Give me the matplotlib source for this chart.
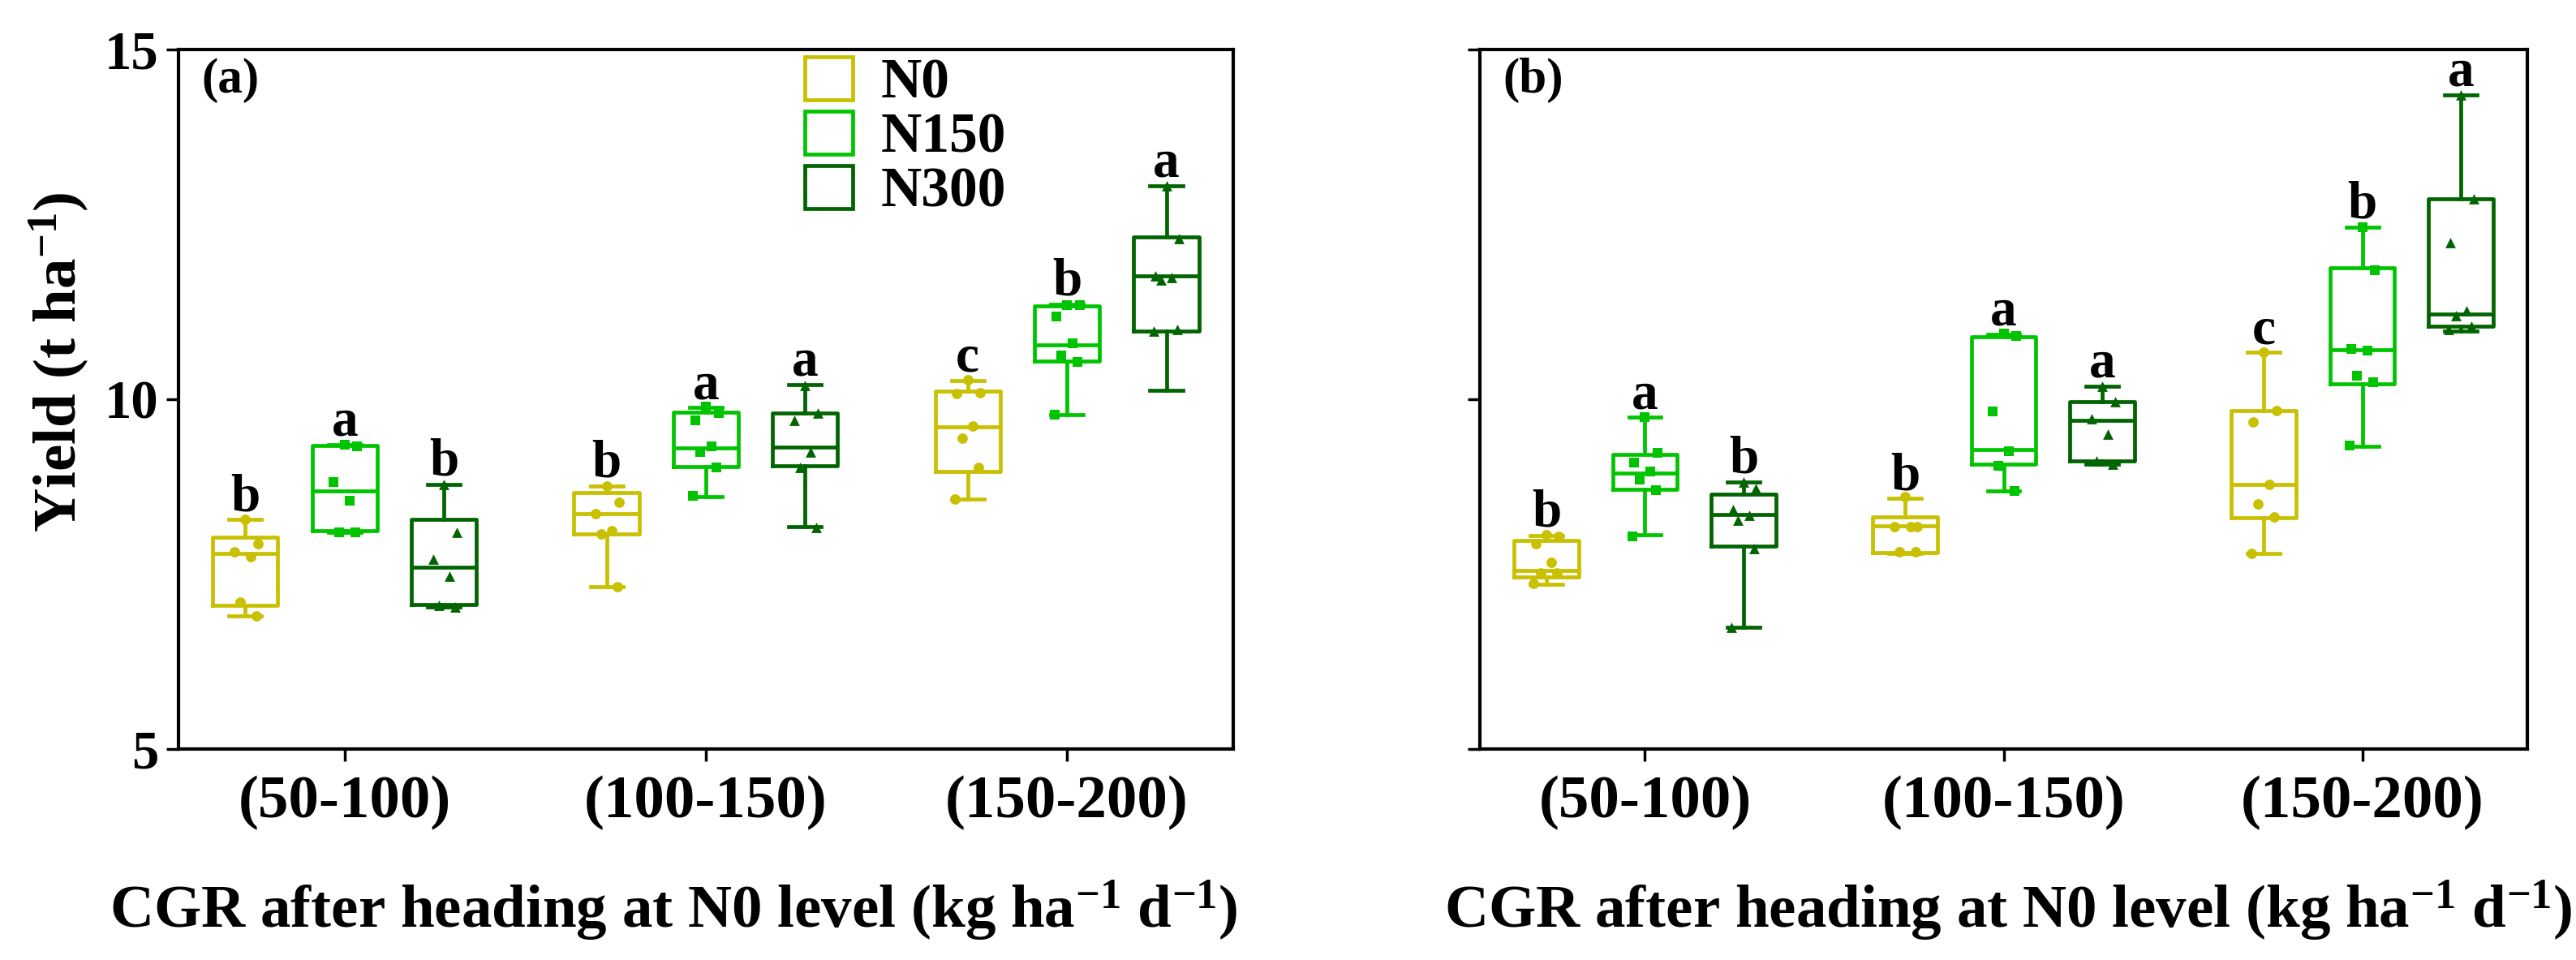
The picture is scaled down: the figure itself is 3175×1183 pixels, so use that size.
import matplotlib
matplotlib.use('Agg')
import matplotlib.pyplot as plt
from matplotlib.patches import Patch
import numpy as np

plt.rcParams['font.family'] = ['Liberation Serif', 'DejaVu Serif']
plt.rcParams['font.weight'] = 'bold'
plt.rcParams['mathtext.fontset'] = 'custom'
plt.rcParams['mathtext.rm'] = 'Liberation Serif:bold'
plt.rcParams['mathtext.bf'] = 'Liberation Serif:bold'
plt.rcParams['mathtext.it'] = 'Liberation Serif:bold:italic'
plt.rcParams['mathtext.default'] = 'rm'

# ---------------- data ----------------
CATEGORIES = ['(50-100)', '(100-150)', '(150-200)']
TREATMENTS = ['N0', 'N150', 'N300']

# box statistics, rows = treatments (N0, N150, N300), cols = categories
A_WHISLO = [[6.90, 7.32, 8.57], [8.10, 8.61, 9.78], [7.03, 8.18, 10.13]]
A_Q1     = [[7.05, 8.08, 8.97], [8.12, 9.04, 10.55], [7.06, 9.05, 10.98]]
A_MED    = [[7.80, 8.36, 9.61], [8.69, 9.30, 10.78], [7.60, 9.31, 11.76]]
A_Q3     = [[8.03, 8.67, 10.12], [9.34, 9.81, 11.34], [8.28, 9.80, 12.32]]
A_WHISHI = [[8.28, 8.76, 10.27], [9.35, 9.88, 11.36], [8.78, 10.21, 13.05]]

B_WHISLO = [[7.36, 7.80, 7.80], [8.06, 8.69, 9.33], [6.74, 9.07, 10.97]]
B_Q1     = [[7.46, 7.81, 8.31], [8.71, 9.07, 10.22], [7.90, 9.12, 11.05]]
B_MED    = [[7.55, 8.19, 8.78], [8.95, 9.28, 10.71], [8.35, 9.70, 11.22]]
B_Q3     = [[7.98, 8.32, 9.84], [9.21, 10.89, 11.88], [8.64, 9.96, 12.86]]
B_WHISHI = [[8.05, 8.58, 10.67], [9.74, 10.93, 12.46], [8.82, 10.19, 14.35]]

# individual observations
A_POINTS = [
    [[8.28, 7.93, 7.82, 7.75, 7.10, 6.90],
     [8.76, 8.53, 8.36, 8.12, 8.08, 7.32],
     [10.28, 10.09, 10.08, 9.62, 9.44, 9.02, 8.57]],
    [[9.35, 9.33, 8.82, 8.55, 8.10, 8.10],
     [9.90, 9.80, 9.70, 9.33, 9.25, 9.02, 8.62],
     [11.35, 11.35, 11.18, 10.80, 10.63, 10.53, 9.78]],
    [[8.78, 8.10, 7.72, 7.47, 7.05, 7.03],
     [10.20, 9.80, 9.70, 9.25, 9.02, 8.17],
     [13.05, 12.30, 11.76, 11.74, 11.70, 11.00, 10.98]],
]
B_POINTS = [
    [[8.06, 8.04, 7.93, 7.67, 7.52, 7.52, 7.37],
     [8.61, 8.18, 8.18, 8.18, 7.82, 7.82],
     [10.67, 9.84, 9.67, 8.78, 8.50, 8.32, 7.80]],
    [[9.74, 9.23, 9.10, 8.97, 8.85, 8.70, 8.04],
     [10.94, 10.90, 9.83, 9.26, 9.05, 8.69],
     [12.46, 11.85, 10.72, 10.70, 10.34, 10.24, 9.34]],
    [[8.82, 8.72, 8.42, 8.34, 8.27, 7.87, 6.74],
     [10.18, 9.97, 9.72, 9.50, 9.12, 9.07],
     [14.35, 12.86, 12.24, 11.27, 11.20, 11.05, 11.00]],
]

A_LETTERS = [['b', 'b', 'c'], ['a', 'a', 'b'], ['b', 'a', 'a']]
B_LETTERS = [['b', 'b', 'c'], ['a', 'a', 'b'], ['b', 'a', 'a']]

Y_TICKS = [5, 10, 15]

# ---------------- style ----------------
COLORS = ['#C8C000', '#00C400', '#006400']
MARKERS = ['o', 's', '^']
OFFSETS = [-0.275, 0.0, 0.275]
BOX_W = 0.18
CAP_W = 0.09
LW = 3.4
JITTER = [0.0, 0.035, -0.03, 0.015, -0.015, 0.03, -0.035]

fig = plt.figure(figsize=(31.75, 11.83), dpi=100)
ax_a = fig.add_axes([0.0693, 0.2198, 0.4094, 0.7286])
ax_b = fig.add_axes([0.5745, 0.2198, 0.4066, 0.7286])


def draw_panel(ax, whislo, q1, med, q3, whishi, points, letters, tag, show_ylabels):
    base = np.arange(len(CATEGORIES))
    for t in range(len(TREATMENTS)):
        col = COLORS[t]
        pos = base + OFFSETS[t]
        stats = []
        for c in range(len(CATEGORIES)):
            stats.append(dict(whislo=whislo[t][c], q1=q1[t][c], med=med[t][c],
                              q3=q3[t][c], whishi=whishi[t][c], fliers=[]))
        ax.bxp(stats, positions=pos, widths=BOX_W, capwidths=CAP_W,
               showfliers=False, patch_artist=False,
               boxprops=dict(color=col, lw=LW),
               medianprops=dict(color=col, lw=LW),
               whiskerprops=dict(color=col, lw=LW),
               capprops=dict(color=col, lw=LW), zorder=2)
        for c in range(len(CATEGORIES)):
            vals = points[t][c]
            xs = pos[c] + np.array(JITTER[:len(vals)])
            ax.scatter(xs, vals, marker=MARKERS[t], color=col, s=85,
                       linewidths=0, zorder=3)
            ax.text(pos[c], whishi[t][c] + 0.13, letters[t][c], ha='center',
                    va='baseline', fontsize=47, fontweight='bold')
    ax.set_xlim(-0.46, 2.46)
    ax.set_ylim(5, 15)
    ax.set_xticks(base)
    ax.set_xticklabels(CATEGORIES, fontsize=54)
    ax.set_yticks(Y_TICKS)
    ax.set_yticklabels([str(v) for v in Y_TICKS], fontsize=48)
    ax.tick_params(axis='x', direction='out', length=11, width=2.5, pad=12)
    ax.tick_params(axis='y', direction='out', length=11, width=2.5, pad=7,
                   labelleft=show_ylabels)
    for s in ax.spines.values():
        s.set_linewidth(3.0)
    ax.text(0.022, 0.988, tag, transform=ax.transAxes, ha='left', va='top',
            fontsize=44, fontweight='bold')


draw_panel(ax_a, A_WHISLO, A_Q1, A_MED, A_Q3, A_WHISHI, A_POINTS, A_LETTERS, '(a)', True)
draw_panel(ax_b, B_WHISLO, B_Q1, B_MED, B_Q3, B_WHISHI, B_POINTS, B_LETTERS, '(b)', False)

handles = [Patch(facecolor='white', edgecolor=COLORS[i], lw=LW, label=TREATMENTS[i])
           for i in range(3)]
ax_a.legend(handles=handles, loc='upper left', bbox_to_anchor=(0.594, 0.99),
            frameon=False, fontsize=50, handlelength=0.85, handleheight=0.8,
            handletextpad=0.5, labelspacing=0.02, borderpad=0, borderaxespad=0)

fig.text(0.023, 0.623, r'Yield (t ha$^{-1}$)', rotation=90, ha='center',
         va='center', fontsize=54, fontweight='bold')
xl = r'CGR after heading at N0 level (kg ha$^{-1}$ d$^{-1}$)'
fig.text(0.2614, 0.0338, xl, ha='center', va='baseline', fontsize=54, fontweight='bold')
fig.text(0.7795, 0.0338, xl, ha='center', va='baseline', fontsize=54, fontweight='bold')

fig.savefig('out.png', dpi=100)
